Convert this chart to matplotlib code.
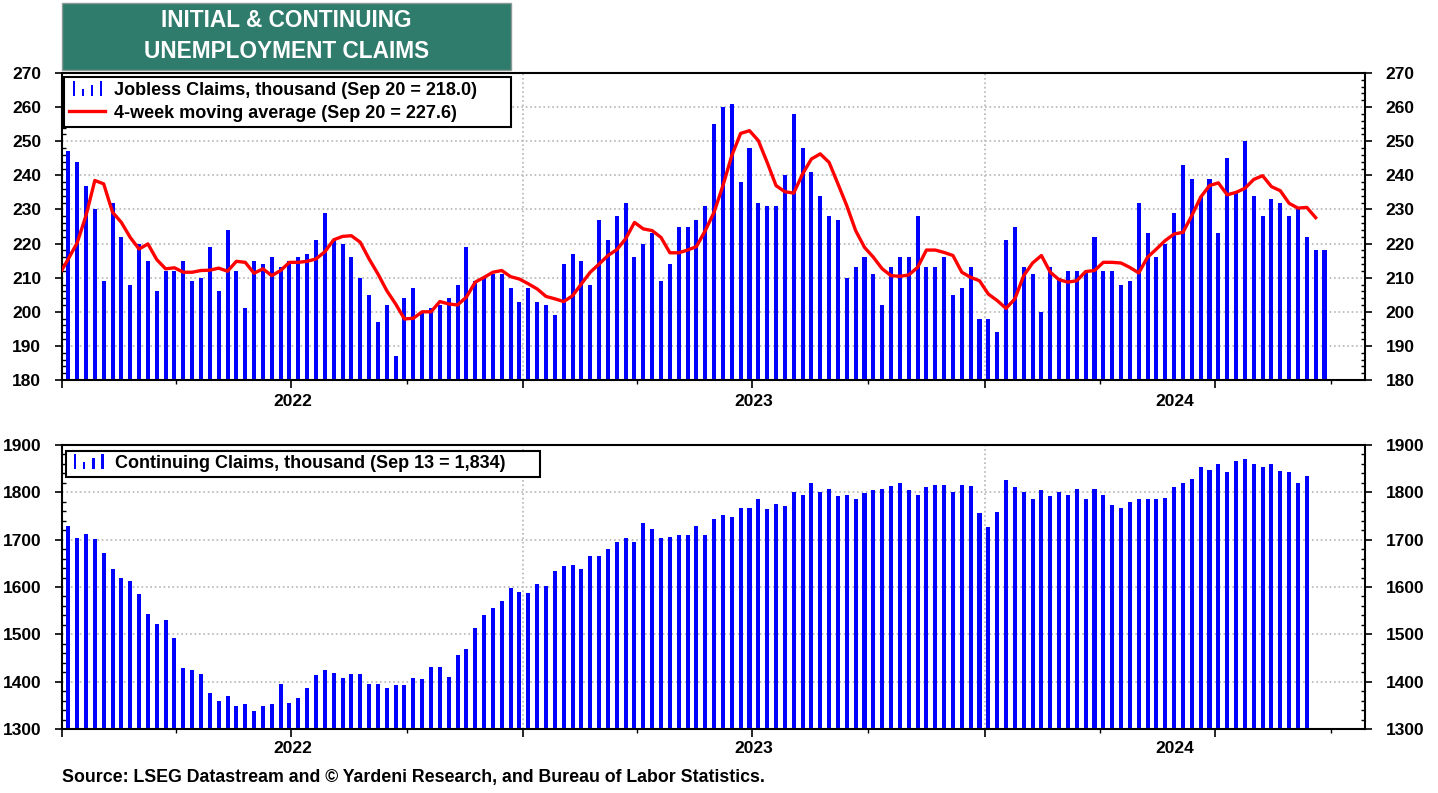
import pandas as pd
import matplotlib
matplotlib.use('Agg')
import matplotlib.pyplot as plt
import matplotlib.dates as mdates
from matplotlib.ticker import MultipleLocator, NullFormatter
from matplotlib.legend_handler import HandlerBase
from matplotlib.patches import Rectangle
from matplotlib.container import BarContainer
import matplotlib.transforms as mtransforms

plt.rcParams['font.family'] = ['Liberation Sans', 'DejaVu Sans']
plt.rcParams['font.weight'] = 'bold'

# weekly initial jobless claims, thousand
jobless = [247, 244, 237, 230, 209, 232, 222, 208, 220, 215,
           206, 212, 212, 215, 209, 210, 219, 206, 224, 212,
           201, 215, 214, 216, 213, 215, 216, 217, 221, 229,
           221, 220, 216, 210, 205, 197, 202, 187, 204, 207,
           200, 201, 202, 204, 208, 219, 209, 210, 211, 211,
           207, 203, 207, 203, 202, 199, 214, 217, 215, 208,
           227, 221, 228, 232, 216, 220, 223, 209, 214, 225,
           225, 227, 231, 255, 260, 261, 238, 248, 232, 231,
           231, 240, 258, 248, 241, 234, 228, 227, 210, 213,
           216, 211, 202, 213, 216, 216, 228, 213, 213, 216,
           205, 207, 213, 198, 198, 194, 221, 225, 213, 211,
           200, 213, 210, 212, 212, 212, 222, 212, 212, 208,
           209, 232, 223, 216, 220, 229, 243, 239, 234, 239,
           223, 245, 235, 250, 234, 228, 233, 232, 228, 230,
           222, 218, 218]

# 4-week moving average (starts one week before the first bar)
ma4 = [211.0,
       215.5, 220.2, 228.2, 238.5, 237.5, 229.2, 226.2, 221.8, 218.4, 219.9,
       215.3, 212.6, 212.9, 211.6, 211.6, 212.1, 212.2, 212.8, 211.9, 214.8,
       214.5, 211.3, 212.6, 210.6, 212.1, 214.5, 214.5, 214.8, 215.5, 217.6,
       221.1, 222.1, 222.3, 220.4, 215.5, 211.1, 206.2, 202.3, 197.9, 198.1,
       200.0, 200.0, 203.0, 202.3, 202.0, 204.3, 208.7, 210.1, 211.6, 212.1,
       210.3, 209.6, 208.2, 206.7, 204.5, 203.8, 203.0, 204.7, 208.2, 211.6,
       214.0, 216.5, 218.2, 221.4, 226.2, 224.3, 223.8, 221.8, 217.3, 217.3,
       218.1, 219.1, 223.8, 229.2, 237.0, 245.8, 252.3, 253.1, 250.2, 243.8,
       237.0, 235.2, 234.8, 240.4, 244.8, 246.3, 243.8, 237.5, 231.1, 223.8,
       218.9, 216.0, 212.6, 210.6, 210.4, 210.8, 213.0, 218.1, 218.1, 217.4,
       216.5, 211.6, 210.1, 209.1, 205.2, 203.3, 201.0, 203.8, 210.6, 214.3,
       216.5, 211.6, 209.4, 208.7, 209.1, 211.8, 212.1, 214.5, 214.5, 214.3,
       213.0, 211.4, 216.0, 218.4, 220.9, 222.8, 223.3, 228.2, 233.6, 237.0,
       237.8, 234.3, 235.0, 236.2, 238.8, 239.9, 236.7, 235.5, 231.8, 230.4,
       230.6, 227.6]

# weekly continuing claims, thousand
continuing = [1729, 1703, 1712, 1701, 1672, 1639, 1620, 1613, 1585, 1543,
              1522, 1531, 1493, 1429, 1425, 1417, 1377, 1360, 1370, 1349,
              1353, 1339, 1349, 1353, 1396, 1356, 1366, 1387, 1415, 1425,
              1419, 1408, 1417, 1417, 1396, 1396, 1387, 1394, 1394, 1408,
              1406, 1432, 1432, 1410, 1456, 1470, 1514, 1541, 1555, 1571,
              1597, 1590, 1588, 1606, 1602, 1634, 1644, 1646, 1639, 1665,
              1665, 1680, 1696, 1703, 1696, 1736, 1722, 1703, 1705, 1710,
              1710, 1729, 1710, 1743, 1752, 1747, 1766, 1768, 1785, 1764,
              1776, 1771, 1801, 1795, 1819, 1801, 1808, 1792, 1794, 1787,
              1799, 1806, 1808, 1813, 1820, 1806, 1794, 1811, 1816, 1816,
              1801, 1816, 1813, 1757, 1726, 1759, 1827, 1811, 1801, 1785,
              1804, 1792, 1801, 1794, 1808, 1787, 1808, 1794, 1773, 1766,
              1780, 1785, 1785, 1787, 1789, 1811, 1820, 1829, 1854, 1847,
              1859, 1842, 1867, 1870, 1859, 1854, 1859, 1845, 1842, 1820,
              1834]

years = ['2022', '2023', '2024']

start = pd.Timestamp('2022-01-06')
jobless_dates = pd.date_range(start, periods=len(jobless), freq='7D')
ma_dates = pd.date_range(start - pd.Timedelta(days=7), periods=len(ma4), freq='7D')
cont_dates = pd.date_range(start, periods=len(continuing), freq='7D')

xmin = pd.Timestamp('2022-01-01')
xmax = pd.Timestamp('2024-10-28')
BLUE = '#0000ff'


class BarIcon(HandlerBase):
    # little "ı ı ı ı" bar-chart icon used in the legends
    def create_artists(self, legend, orig_handle, xdescent, ydescent,
                       width, height, fontsize, trans):
        hs = [1.0, 0.5, 0.75, 1.0]
        n = len(hs)
        step = width / n
        arts = []
        for i, h in enumerate(hs):
            r = Rectangle((-xdescent + i * step + step * 0.35, -ydescent - height * 0.1),
                          step * 0.32, height * 1.2 * h,
                          facecolor=BLUE, edgecolor='none', transform=trans)
            arts.append(r)
        return arts


fig = plt.figure(figsize=(14.38, 7.93), dpi=100)
ax1 = fig.add_axes([0.0431, 0.5208, 0.9061, 0.3871])
ax2 = fig.add_axes([0.0431, 0.0807, 0.9061, 0.3581])


def style(ax, ymin, ymax, major, minor):
    ax.set_xlim(xmin, xmax)
    ax.set_ylim(ymin, ymax)
    ax.yaxis.set_major_locator(MultipleLocator(major))
    ax.yaxis.set_minor_locator(MultipleLocator(minor))
    ax.xaxis.set_major_locator(mdates.MonthLocator(bymonth=[1, 7]))
    ax.xaxis.set_minor_locator(mdates.MonthLocator(bymonth=[4, 10]))
    ax.xaxis.set_major_formatter(NullFormatter())
    ax.tick_params(axis='y', which='major', direction='out', length=5, width=1.2,
                   pad=10, labelsize=12.5, left=True, right=True, labelright=True)
    ax.tick_params(axis='y', which='minor', direction='in', length=3, width=1,
                   left=True, right=True)
    ax.tick_params(axis='x', which='major', direction='out', length=6, width=1.2)
    ax.tick_params(axis='x', which='minor', direction='out', length=3, width=1)
    for lab in ax.get_yticklabels():
        lab.set_fontweight('bold')
    for sp in ax.spines.values():
        sp.set_linewidth(1.5)
        sp.set_color('black')
    ax.set_axisbelow(True)
    ax.yaxis.grid(True, which='major', linestyle=':', color='#b5b5b5', linewidth=1.2)
    for y in ['2023-01-01', '2024-01-01']:
        ax.axvline(pd.Timestamp(y), color='#b5b5b5', linestyle=':', linewidth=1.2, zorder=0)
    # year labels centred on the visible part of each year
    trans = mtransforms.blended_transform_factory(ax.transData, ax.transAxes)
    for yr in years:
        a = max(pd.Timestamp(yr + '-01-01'), xmin)
        b = min(pd.Timestamp(str(int(yr) + 1) + '-01-01'), xmax)
        mid = a + (b - a) / 2
        ax.text(mid, -0.07, yr, transform=trans, ha='center', va='center',
                fontsize=12.5, fontweight='bold')


style(ax1, 180, 270, 10, 2)
style(ax2, 1300, 1900, 100, 20)

bars1 = ax1.bar(jobless_dates, [v - 180 for v in jobless], bottom=180, width=3.2,
                color=BLUE, zorder=2)
line1, = ax1.plot(ma_dates, ma4, color='#ff0000', linewidth=2.4, zorder=3)
leg1 = ax1.legend([bars1, line1],
                  ['Jobless Claims, thousand (Sep 20 = 218.0)',
                   '4-week moving average (Sep 20 = 227.6)'],
                  handler_map={BarContainer: BarIcon()},
                  loc='upper left', bbox_to_anchor=(0.0015, 0.5, 0.343, 0.488),
                  mode='expand', borderaxespad=0,
                  fancybox=False, edgecolor='black', framealpha=1,
                  prop={'size': 13, 'weight': 'bold'}, handlelength=2.0,
                  handletextpad=0.45, borderpad=0.3, labelspacing=0.3)
leg1.get_frame().set_linewidth(1.5)

bars2 = ax2.bar(cont_dates, [v - 1300 for v in continuing], bottom=1300, width=3.2,
                color=BLUE, zorder=2)
leg2 = ax2.legend([bars2], ['Continuing Claims, thousand (Sep 13 = 1,834)'],
                  handler_map={BarContainer: BarIcon()},
                  loc='upper left', bbox_to_anchor=(0.003, 0.5, 0.3638, 0.48),
                  mode='expand', borderaxespad=0,
                  fancybox=False, edgecolor='black', framealpha=1,
                  prop={'size': 13, 'weight': 'bold'}, handlelength=2.0,
                  handletextpad=0.45, borderpad=0.25)
leg2.get_frame().set_linewidth(1.5)

# title box
fig.add_artist(Rectangle((0.0431, 0.9117), 0.3122, 0.0845, transform=fig.transFigure,
                         facecolor='#2f7b6c', edgecolor='#8a9a96', linewidth=1))
fig.text(0.1992, 0.9545, 'INITIAL & CONTINUING\nUNEMPLOYMENT CLAIMS', color='white',
         ha='center', va='center', fontsize=16.3, fontweight='bold', linespacing=1.45)

fig.text(0.0431, 0.020, 'Source: LSEG Datastream and \u00a9 Yardeni Research, and Bureau of Labor Statistics.',
         ha='left', va='center', fontsize=12.8, fontweight='bold')

fig.savefig('out.png', dpi=100)
